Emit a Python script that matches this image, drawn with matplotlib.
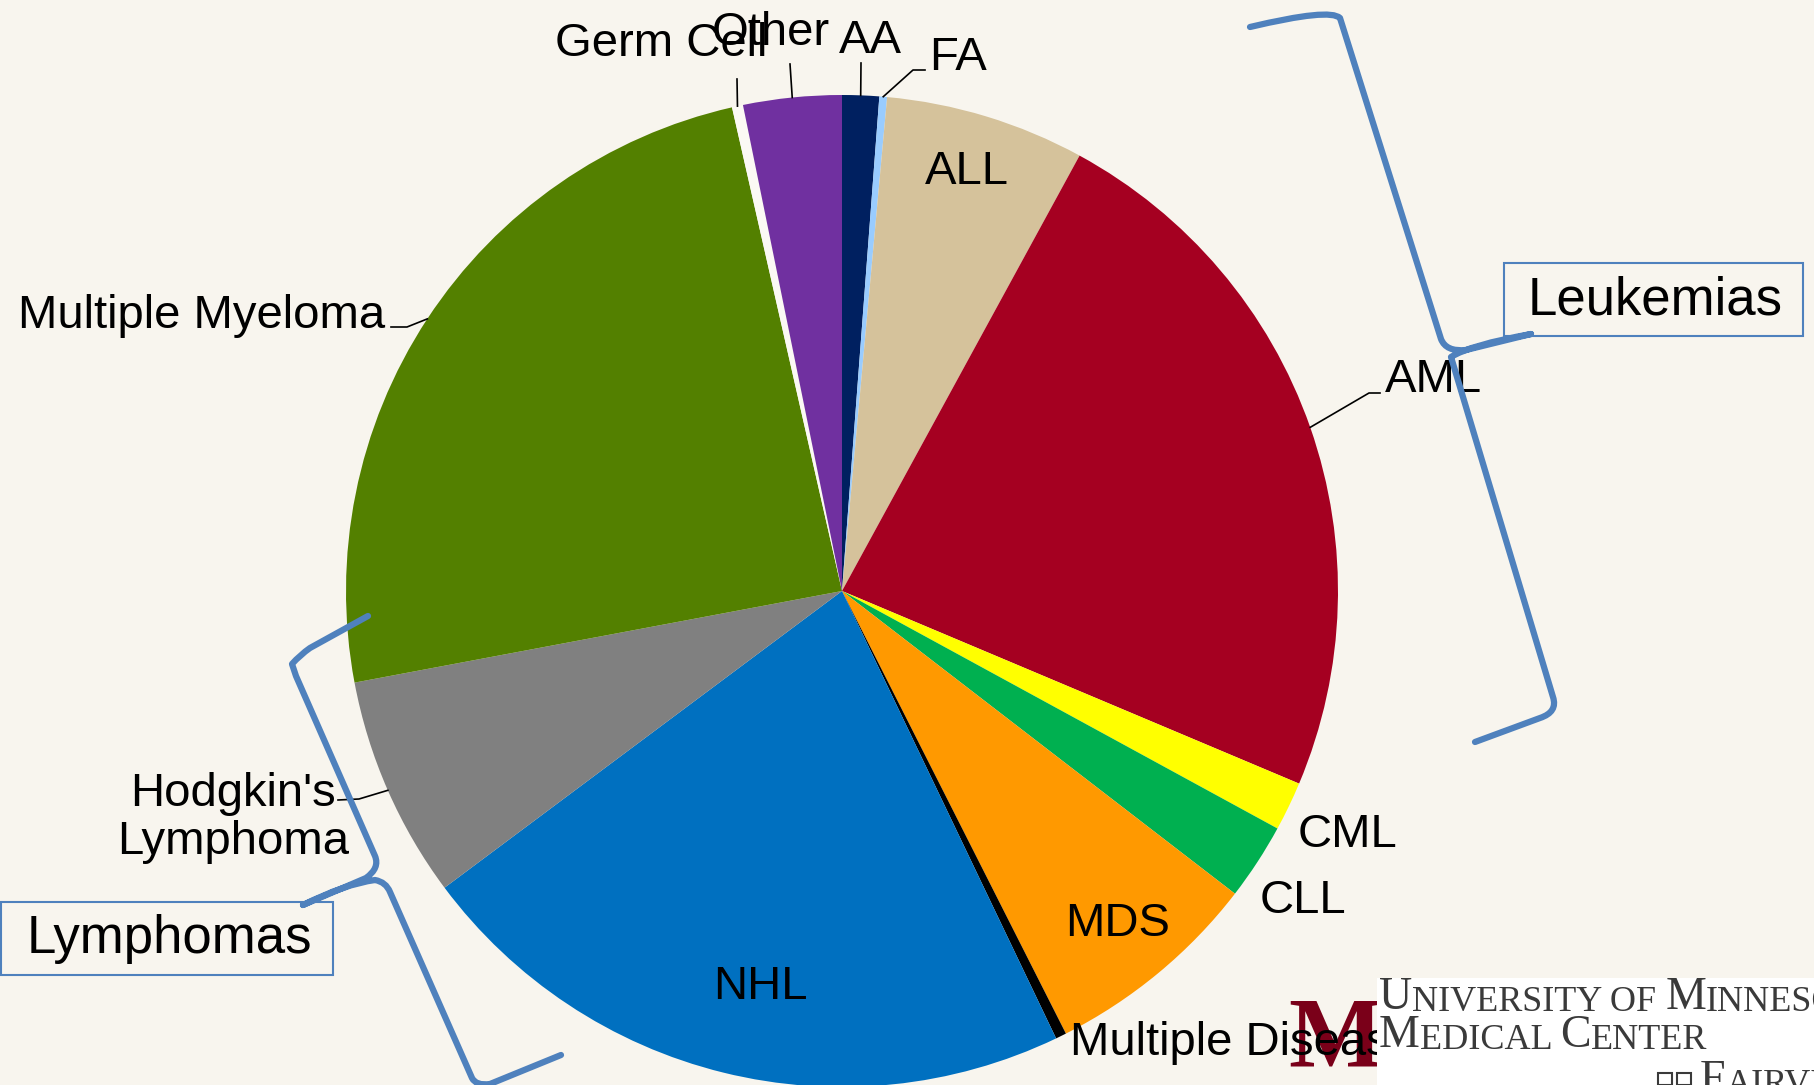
import matplotlib
matplotlib.use("Agg")
import numpy as np
import matplotlib.pyplot as plt
from matplotlib.path import Path
from matplotlib.patches import PathPatch, Rectangle

W, H = 1814, 1085
BG = "#F8F5EE"
BRACE = "#4F81BD"

# transplant share by disease, clockwise from 12 o'clock (percent)
diseases = ["AA", "FA", "ALL", "AML", "CML", "CLL", "MDS", "Multiple Diseases",
            "NHL", "Hodgkin's\nLymphoma", "Multiple Myeloma", "Germ Cell", "Other"]
shares = [1.2, 0.25, 6.5, 23.4, 1.6, 2.5, 7.1, 0.35, 21.9, 7.25, 24.4, 0.36, 3.2]
colors = ["#002060", "#99CCFF", "#D5C29B", "#A50021", "#FFFF00", "#00B050",
          "#FF9900", "#000000", "#0070C0", "#808080", "#538000", "#FBF9F4", "#7030A0"]

plt.rcParams["font.family"] = ["Liberation Sans", "DejaVu Sans"]


def px(x, y):
    # picture pixel coords (y down) -> axes data coords (y up)
    return x, H - y


fig = plt.figure(figsize=(W / 100, H / 100), dpi=100, facecolor=BG)
ax = fig.add_axes([0, 0, 1, 1])
ax.set_facecolor(BG)

cx, cy = px(842, 591)
R = 496
wedges, _ = ax.pie(shares, colors=colors, startangle=90, counterclock=False,
                   center=(cx, cy), radius=R, frame=True,
                   wedgeprops=dict(linewidth=0))
ax.set_xlim(0, W)
ax.set_ylim(0, H)
ax.set_aspect("equal")
ax.axis("off")

# label placement (pixel coords of text centre) and alignment
label_pos = {
    "AA": (870, 41, "center"),
    "FA": (958, 58, "center"),
    "ALL": (967, 172, "center"),
    "AML": (1433, 380, "center"),
    "CML": (1348, 835, "center"),
    "CLL": (1303, 901, "center"),
    "MDS": (1118, 924, "center"),
    "Multiple Diseases": (1070, 1043, "left"),
    "NHL": (760, 987, "center"),
    "Hodgkin's\nLymphoma": (233, 818, "center"),
    "Multiple Myeloma": (385, 316, "right"),
    "Germ Cell": (661, 44, "center"),
    "Other": (771, 33, "center"),
}
# leader elbows, from the wedge edge outwards
leaders = {
    "AA": [(861, 63)],
    "FA": [(913, 70), (925, 70)],
    "AML": [(1369, 393), (1380, 393)],
    "Multiple Myeloma": [(407, 327), (391, 327)],
    "Hodgkin's\nLymphoma": [(359, 799), (338, 800)],
    "Germ Cell": [(737, 79)],
    "Other": [(790, 64)],
}

for name, w in zip(diseases, wedges):
    x, y, ha = label_pos[name]
    tx, ty = px(x, y)
    z = 6 if name != "Multiple Diseases" else 3
    ax.text(tx, ty, name, fontsize=34, ha=ha, va="center", color="black",
            multialignment="center", linespacing=1.1, zorder=z)
    if name in leaders:
        mid = np.deg2rad((w.theta1 + w.theta2) / 2)
        xs = [cx + R * np.cos(mid)]
        ys = [cy + R * np.sin(mid)]
        for ex, ey in leaders[name]:
            lx, ly = px(ex, ey)
            xs.append(lx)
            ys.append(ly)
        ax.plot(xs, ys, color="black", lw=1.2, zorder=5)


def brace(pts, codes):
    verts = [px(x, y) for x, y in pts]
    patch = PathPatch(Path(verts, codes), facecolor="none", edgecolor=BRACE,
                      lw=4.5, capstyle="round", joinstyle="round", zorder=7)
    ax.add_patch(patch)


M, L, Q = Path.MOVETO, Path.LINETO, Path.CURVE3

# Leukemias brace
brace([(1250, 27), (1330, 8), (1340, 18), (1441, 339), (1446, 352), (1466, 350),
       (1531, 334), (1531, 334), (1470, 345), (1451, 357), (1553, 697),
       (1558, 712), (1540, 718), (1475, 742)],
      [M, Q, Q, L, Q, Q, L, M, Q, Q, L, Q, Q, L])

# Lymphomas brace
brace([(368, 616), (310, 648), (300, 655), (292, 664), (296, 676), (375, 856),
       (380, 868), (366, 878), (303, 905), (303, 905), (345, 884), (375, 880),
       (386, 882), (390, 892), (472, 1078), (476, 1086), (490, 1084), (561, 1055)],
      [M, L, Q, Q, L, L, Q, Q, L, M, Q, Q, Q, Q, L, Q, Q, L])

# group boxes
for (x0, y0, x1, y1), txt in [((1504, 263, 1803, 336), "Leukemias"),
                              ((1, 902, 333, 975), "Lymphomas")]:
    bx, by = px(x0, y1)
    ax.add_patch(Rectangle((bx, by), x1 - x0, y1 - y0, facecolor=BG,
                           edgecolor=BRACE, lw=1.5, zorder=4))
    tx, ty = px((x0 + x1) / 2 + 2, (y0 + y1) / 2 + 1)
    ax.text(tx, ty, txt, fontsize=38, ha="center", va="center", zorder=5)

# university logo, bottom right
mx, my = px(1336, 1066)
ax.text(mx, my, "M", fontsize=72, fontweight="bold", family="Liberation Serif",
        color="#7A0019", ha="center", va="baseline", zorder=2)
lx, ly = px(1377, 1085)
ax.add_patch(Rectangle((lx, ly), W - 1377, 1085 - 978, facecolor="white",
                       edgecolor="none", zorder=8))

logo_kw = dict(family="Liberation Serif", color="#3A3A3A", zorder=9)
rows = [(1019, [("U", 33), ("NIVERSITY OF ", 26), ("M", 33), ("INNESOTA", 26)]),
        (1057, [("M", 33), ("EDICAL ", 26), ("C", 33), ("ENTER", 26)])]
for y, parts in rows:
    sx, sy = px(1379, y)
    prev = None
    for s, size in parts:
        if prev is None:
            prev = ax.text(sx, sy, s, fontsize=size, ha="left", va="bottom",
                           **logo_kw)
        else:
            prev = ax.annotate(s, xy=(1, 0), xycoords=prev, ha="left",
                               va="bottom", fontsize=size, **logo_kw)
fx, fy = px(1700, 1102)
ax.text(fx, fy, "F", fontsize=33, ha="left", va="bottom", **logo_kw)
ax.annotate("AIRVIEW", xy=(1, 0), xycoords=ax.texts[-1], ha="left", va="bottom",
            fontsize=26, **logo_kw)
for ix in (1658, 1677):
    rx, ry = px(ix, 1085)
    ax.add_patch(Rectangle((rx, ry), 14, 12, facecolor="none",
                           edgecolor="#3A3A3A", lw=1.5, zorder=9))

fig.savefig("out.png", dpi=100, facecolor=BG)
